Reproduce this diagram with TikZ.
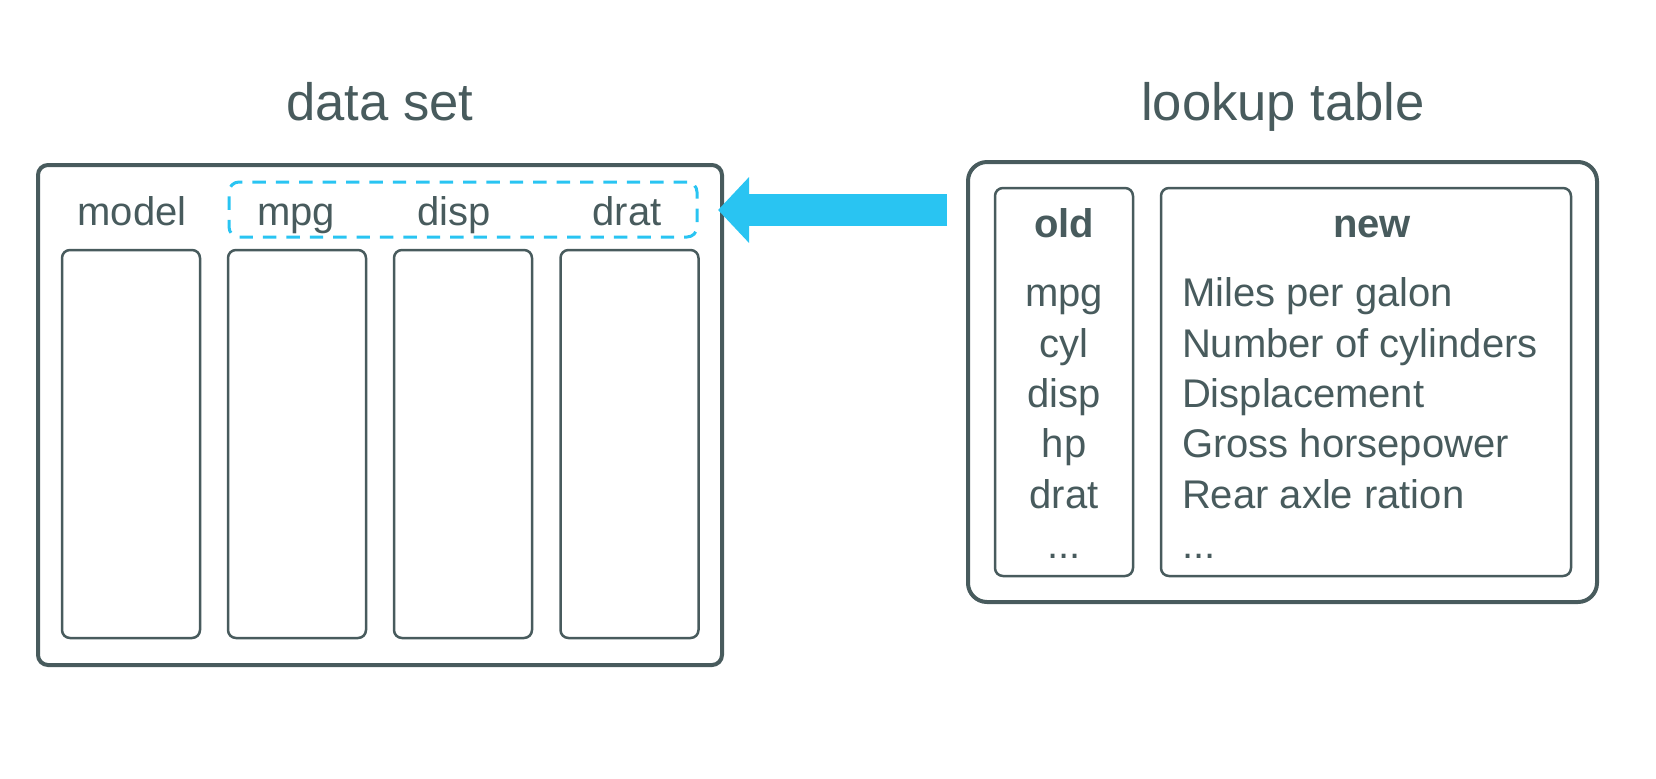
\documentclass[tikz,border=0pt]{standalone}
\usepackage{fontspec}
\setmainfont{Liberation Sans}
\usetikzlibrary{arrows.meta}
\definecolor{slate}{RGB}{72,91,93}
\definecolor{sky}{RGB}{41,196,242}
\begin{document}
\begin{tikzpicture}[x=0.5pt,y=-0.5pt,
  every node/.style={text=slate, inner sep=0pt, outer sep=0pt},
  titletext/.style={font=\fontsize{26.3pt}{30pt}\selectfont, anchor=base},
  lbl/.style={font=\fontsize{20pt}{24pt}\selectfont, anchor=base},
  lblleft/.style={lbl, anchor=base west},
  headbold/.style={lbl, font=\fontsize{20pt}{24pt}\selectfont\bfseries},
  bigbox/.style={draw=slate, line width=2pt, rounded corners=5pt},
  colbox/.style={draw=slate, line width=1.25pt, rounded corners=4pt, minimum width=69pt, minimum height=194pt},
  selbox/.style={draw=sky, line width=1.5pt, rounded corners=5pt, dash pattern=on 6.7pt off 5pt},
  bigarrow/.style={draw=sky, line width=16pt, -{Triangle[length=15.5pt,width=32pt]}}
]
\useasboundingbox (0,0) rectangle (1656,778);

% titles
\node[titletext] (dstitle) at (380,120) {data set};
\node[titletext] (lttitle) at (1283,120) {lookup table};

% data set
\node[bigbox, minimum width=342pt, minimum height=250pt] (dsbox) at (380,415) {};
\node[colbox] (c1) at (131,444) {};
\node[colbox] (c2) at (297,444) {};
\node[colbox] (c3) at (463,444) {};
\node[colbox] (c4) at (629.5,444) {};
\node[selbox, minimum width=234pt, minimum height=27.5pt] (sel) at (463,209.5) {};
\node[lbl] (hmodel) at (132,225) {model};
\node[lbl] (hmpg) at (296,225) {mpg};
\node[lbl] (hdisp) at (454,225) {disp};
\node[lbl] (hdrat) at (627,225) {drat};

% lookup table
\node[draw=slate, line width=2pt, rounded corners=9.5pt, minimum width=314.5pt, minimum height=220pt] (ltbox) at (1282.5,382) {};
\node[colbox] (oldbox) at (1064,382) {};
\node[colbox, minimum width=205pt] (newbox) at (1366,382) {};
\node[headbold] (oldh) at (1064,237) {old};
\node[headbold] (newh) at (1372,237) {new};

\node[lbl] (o1) at (1064,306) {mpg};
\node[lbl] (o2) at (1064,357) {cyl};
\node[lbl] (o3) at (1064,407) {disp};
\node[lbl] (o4) at (1064,457) {hp};
\node[lbl] (o5) at (1064,508) {drat};
\node[lbl] (o6) at (1064,558) {...};

\node[lblleft] (n1) at (1182,306) {Miles per galon};
\node[lblleft] (n2) at (1182,357) {Number of cylinders};
\node[lblleft] (n3) at (1182,407) {Displacement};
\node[lblleft] (n4) at (1182,457) {Gross horsepower};
\node[lblleft] (n5) at (1182,508) {Rear axle ration};
\node[lblleft] (n6) at (1182,558) {...};

% arrow
\coordinate (arrstart) at (947,210);
\coordinate (arrend) at (718,210);
\draw[bigarrow] (arrstart) -- (arrend);
\end{tikzpicture}
\end{document}
